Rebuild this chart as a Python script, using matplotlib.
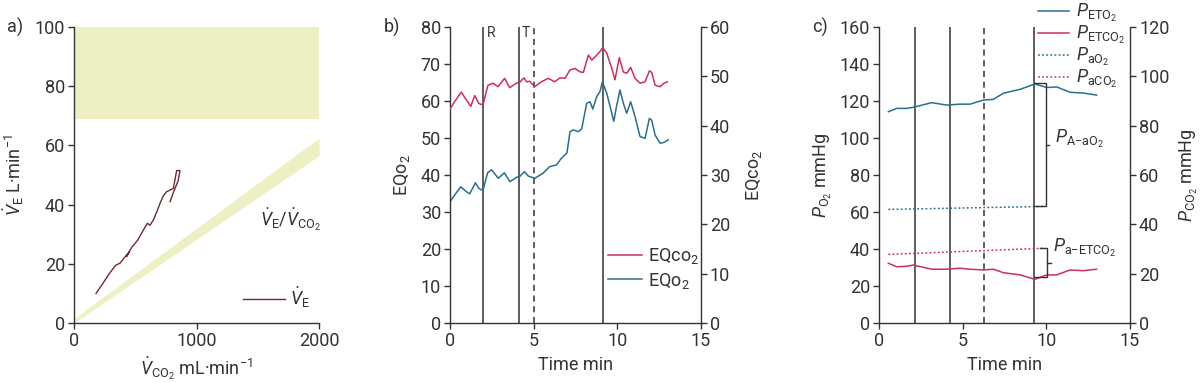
import numpy as np
import matplotlib
matplotlib.use("Agg")
import matplotlib.pyplot as plt

plt.rcParams["font.family"] = ["Roboto", "DejaVu Sans"]
plt.rcParams["mathtext.fontset"] = "custom"
plt.rcParams["mathtext.rm"] = "Roboto"
plt.rcParams["mathtext.it"] = "Roboto:italic"
plt.rcParams["mathtext.bf"] = "Roboto:bold"
plt.rcParams["mathtext.sf"] = "Roboto"

# ---- panel a: VE vs VCO2 ----
VCO2 = [180, 230, 290, 340, 375, 420, 450, 430, 470, 520, 566, 599, 620, 648, 680, 702, 730, 757,
        790, 811, 824, 838, 865, 850, 815, 784]
VE = [10, 13, 16.8, 19.5, 20.2, 22.5, 24, 22.5, 25.5, 28, 31.4, 33.7, 33, 34.8, 38, 40.4, 43, 44.4,
      45, 45.5, 48.3, 51.5, 51.5, 48, 44.5, 41]
BAND_X = [0, 2000]
BAND_LO, BAND_HI = [69, 69], [100, 100]
WEDGE_LO, WEDGE_HI = [0, 56.5], [1.5, 62.5]

# ---- panel b: ventilatory equivalents (EQO2 on left axis, EQCO2 on right axis) ----
T_EQO2 = [0, 0.28, 0.64, 0.98, 1.18, 1.52, 1.72, 1.97, 2.25, 2.49, 2.89, 3.25, 3.59, 3.99, 4.17,
          4.45, 4.69, 5.07, 5.57, 5.97, 6.37, 6.66, 7.0, 7.18, 7.38, 7.68, 7.88, 8.18, 8.38, 8.54,
          8.78, 8.97, 9.12, 9.38, 9.58, 9.8, 9.94, 10.17, 10.37, 10.57, 10.81, 11.07, 11.37, 11.67,
          11.93, 12.07, 12.27, 12.57, 12.8, 13.06]
EQO2 = [32.8, 34.6, 36.8, 35.5, 34.9, 37.9, 36.4, 35.8, 40.6, 41.4, 39.1, 40.6, 38.2, 39.4, 39.6,
        40.9, 39.7, 39.1, 40.5, 42.3, 42.7, 44.5, 46.0, 51.7, 52.2, 51.7, 52.5, 59.4, 59.8, 57.8,
        61.2, 62.5, 65.2, 62.1, 58.5, 54.5, 58.0, 63.0, 59.4, 56.7, 59.8, 55.8, 50.4, 49.9,
        55.3, 54.8, 50.8, 48.6, 48.8, 49.5]
T_EQCO2 = [0, 0.28, 0.68, 0.98, 1.24, 1.48, 1.72, 1.97, 2.27, 2.57, 2.87, 3.27, 3.57, 3.97, 4.17,
           4.43, 4.57, 4.77, 5.07, 5.47, 5.87, 6.27, 6.58, 6.88, 7.18, 7.48, 7.78, 7.98, 8.28, 8.48,
           8.78, 8.97, 9.14, 9.38, 9.68, 9.87, 10.13, 10.37, 10.57, 10.81, 11.07, 11.37, 11.67,
           11.93, 12.07, 12.27, 12.57, 12.8, 13.0]
EQCO2 = [43.4, 44.9, 46.8, 45.2, 43.9, 46.1, 44.5, 44.2, 48.2, 48.6, 47.9, 49.6, 47.7, 48.6, 48.8,
         49.7, 48.9, 49.0, 47.9, 48.9, 49.6, 48.9, 49.7, 49.6, 51.3, 51.6, 50.9, 50.8, 54.3, 53.3,
         54.3, 55.0, 55.8, 54.7, 51.6, 49.3, 53.8, 50.9, 50.6, 51.8, 49.6, 48.6, 48.9,
         51.1, 50.8, 48.2, 47.9, 48.6, 48.9]
B_SOLID = [2.0, 4.1, 9.15]
B_DASH = 5.05

# ---- panel c: gas tensions (O2 on left axis, CO2 on right axis) ----
T_C = [0.56, 1.06, 1.65, 2.05, 3.15, 4.04, 4.84, 5.44, 6.24, 6.84, 7.43, 8.43, 9.32, 10.02, 10.62,
       11.42, 12.2, 13.0]
PETO2 = [114.2, 116.0, 116.0, 116.6, 119.1, 117.8, 118.3, 118.3, 120.5, 120.9, 124.2, 126.3, 129.2,
         127.3, 127.6, 124.7, 124.3, 123.2]
PETCO2 = [24.2, 22.8, 23.0, 23.5, 21.8, 21.8, 22.2, 21.8, 21.5, 21.8, 20.4, 19.5, 17.7, 19.5, 19.5,
          21.5, 21.2, 21.8]
T_ART = [0.56, 9.8]
PAO2 = [61.4, 63.0]
PACO2 = [27.8, 30.3]
C_SOLID = [2.13, 4.22, 9.27]
C_DASH = 6.26

RED = "#cc2f5a"
BLUE = "#2b6d8e"
BROWN = "#6e2a2f"
YEL = "#eef0c4"
DARK = "#333333"
FS = 13

fig = plt.figure(figsize=(12, 3.83), dpi=100)
W, H = 1200, 383


def add_ax(x0, x1, y0=27, y1=323):
    return fig.add_axes([x0 / W, 1 - y1 / H, (x1 - x0) / W, (y1 - y0) / H])


def style(ax, right=False):
    for s in ["top", "right", "left", "bottom"]:
        ax.spines[s].set_visible(False)
    ax.spines["left"].set_visible(not right)
    ax.spines["bottom"].set_visible(not right)
    ax.spines["right"].set_visible(right)
    for s in ax.spines.values():
        s.set_color(DARK)
        s.set_linewidth(1.0)
    ax.tick_params(direction="out", length=4.5, width=1.0, colors=DARK, labelsize=FS, pad=2)
    ax.patch.set_alpha(0)


# ---------------- a ----------------
ax = add_ax(74, 319)
style(ax)
ax.fill_between(BAND_X, BAND_LO, BAND_HI, color=YEL, lw=0)
ax.fill_between(BAND_X, WEDGE_LO, WEDGE_HI, color=YEL, lw=0)
ax.plot(VCO2, VE, color=BROWN, lw=1.0, label=r"$\dot{V}_\mathrm{E}$")
ax.set_xlim(0, 2000)
ax.set_ylim(0, 100)
ax.set_xticks([0, 1000, 2000])
ax.set_yticks(range(0, 101, 20))
ax.set_xlabel(r"$\dot{V}_\mathrm{CO_2}$ mL·min$^{-1}$", fontsize=FS, color=DARK, labelpad=4)
ax.set_ylabel(r"$\dot{V}_\mathrm{E}$ L·min$^{-1}$", fontsize=FS, color=DARK, labelpad=6)
ax.text(1518, 35, r"$\dot{V}_\mathrm{E}$/$\dot{V}_\mathrm{CO_2}$", fontsize=FS, color=DARK,
        va="center", ha="left")
ax.legend(loc="center left", bbox_to_anchor=(0.69, 0.085), frameon=False, fontsize=FS,
          handlelength=2.3, handletextpad=0.3, borderpad=0, borderaxespad=0, labelcolor=DARK)

# ---------------- b ----------------
ax = add_ax(450, 700.7)
style(ax)
ax2 = ax.twinx()
style(ax2, right=True)
for t in B_SOLID:
    ax.axvline(t, color=DARK, lw=1.1)
ax.axvline(B_DASH, color=DARK, lw=1.1, ls=(0, (4, 3)))
hb, = ax.plot(T_EQO2, EQO2, color=BLUE, lw=1.1)
hr, = ax2.plot(T_EQCO2, EQCO2, color=RED, lw=1.1)
ax.set_xlim(0, 15)
ax.set_ylim(0, 80)
ax2.set_ylim(0, 60)
ax.set_xticks([0, 5, 10, 15])
ax.set_yticks(range(0, 81, 10))
ax2.set_yticks(range(0, 61, 10))
ax.text(B_SOLID[0] + 0.2, 78.5, "R", fontsize=10, color=DARK, va="center")
ax.text(B_SOLID[1] + 0.2, 78.5, "T", fontsize=10, color=DARK, va="center")
ax.set_xlabel("Time min", fontsize=FS, color=DARK, labelpad=4)
ax.set_ylabel("EQo$_2$", fontsize=FS, color=DARK, labelpad=6)
ax2.set_ylabel("EQco$_2$", fontsize=FS, color=DARK, labelpad=10)
ax.legend([hr, hb], ["EQco$_2$", "EQo$_2$"], loc="upper left", bbox_to_anchor=(0.63, 0.26),
          frameon=False, fontsize=FS, handlelength=1.9, handletextpad=0.3, borderpad=0,
          borderaxespad=0, labelspacing=0.25, labelcolor=DARK)

# ---------------- c ----------------
ax = add_ax(879, 1130)
style(ax)
ax2 = ax.twinx()
style(ax2, right=True)
for t in C_SOLID:
    ax.axvline(t, color=DARK, lw=1.1)
ax.axvline(C_DASH, color=DARK, lw=1.1, ls=(0, (4, 3)))
h1, = ax.plot(T_C, PETO2, color=BLUE, lw=1.1)
h2, = ax2.plot(T_C, PETCO2, color=RED, lw=1.1)
h3, = ax.plot(T_ART, PAO2, color=BLUE, lw=1.1, ls=(0, (1.2, 1.5)))
h4, = ax2.plot(T_ART, PACO2, color=RED, lw=1.1, ls=(0, (1.2, 1.5)))
ax.set_xlim(0, 15)
ax.set_ylim(0, 160)
ax2.set_ylim(0, 120)
ax.set_xticks([0, 5, 10, 15])
ax.set_yticks(range(0, 161, 20))
ax2.set_yticks(range(0, 121, 20))
ax.set_xlabel("Time min", fontsize=FS, color=DARK, labelpad=4)
ax.set_ylabel(r"$P_{\mathrm{O}_2}$ mmHg", fontsize=FS, color=DARK, labelpad=4)
ax2.set_ylabel(r"$P_{\mathrm{CO}_2}$ mmHg", fontsize=FS, color=DARK, labelpad=6)

# brackets: A-a O2 gradient (left axis) and a-ET CO2 gradient (right axis)
top_o2, bot_o2 = max(PETO2) + 0.4, PAO2[-1]
xb = 9.96
ax.plot([C_SOLID[2], xb, xb, C_SOLID[2]], [top_o2, top_o2, bot_o2, bot_o2], color=DARK, lw=1.0)
mid_o2 = (top_o2 + bot_o2) / 2
ax.plot([xb, xb + 0.22], [mid_o2, mid_o2], color=DARK, lw=1.0)
ax.text(xb + 0.55, mid_o2 + 3, r"$P_{\mathrm{A{-}aO}_2}$", fontsize=FS, color=DARK, va="center")

top_co2, bot_co2 = PACO2[-1], min(PETCO2) + 0.8
xb2 = 10.02
ax2.plot([9.62, xb2, xb2, C_SOLID[2]], [top_co2, top_co2, bot_co2, bot_co2], color=DARK, lw=1.0)
mid_co2 = (top_co2 + bot_co2) / 2
ax2.plot([xb2, xb2 + 0.25], [mid_co2, mid_co2], color=DARK, lw=1.0)
ax2.text(xb2 + 0.4, top_co2, r"$P_{\mathrm{a{-}ETCO}_2}$", fontsize=FS, color=DARK, va="center")

ax.legend([h1, h2, h3, h4],
          [r"$P_{\mathrm{ETO}_2}$", r"$P_{\mathrm{ETCO}_2}$", r"$P_{\mathrm{aO}_2}$", r"$P_{\mathrm{aCO}_2}$"],
          loc="upper left", bbox_to_anchor=(0.633, 1.085), frameon=False, fontsize=FS,
          handlelength=1.7, handletextpad=0.4, borderpad=0, borderaxespad=0, labelspacing=0.0,
          labelcolor=DARK)

# panel letters
for x, lab in [(15, "a)"), (392, "b)"), (820, "c)")]:
    fig.text(x / W, 1 - 27 / H, lab, fontsize=FS, color=DARK, ha="center", va="center")

fig.savefig("out.png", dpi=100)
